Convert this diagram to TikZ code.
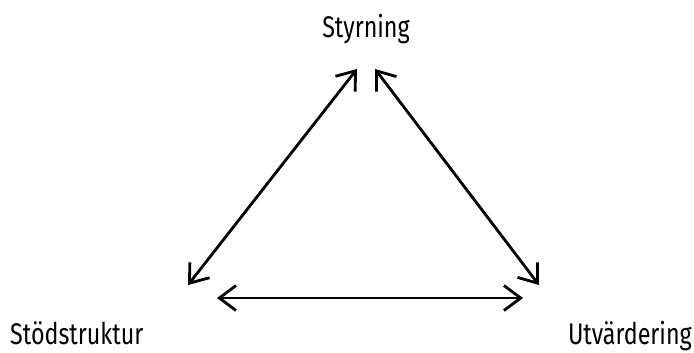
\documentclass[tikz,border=0pt]{standalone}
\usepackage{fontspec}
\setmainfont[FakeStretch=0.78]{Fira Sans}
\usetikzlibrary{arrows.meta}

\begin{document}
\begin{tikzpicture}[x=0.03cm, y=-0.03cm, >={Straight Barb[length=5mm, width=7.5mm]}]
  % Styles
  \tikzset{
    pil/.style={<->, line width=2.4pt},
    etikett/.style={font=\fontsize{25.5}{30}\selectfont, inner sep=0pt}
  }
  \useasboundingbox (0,0) rectangle (694,352);

  % Labels
  \node[etikett, anchor=base] (styr) at (366,37) {Styrning};
  \node[etikett, anchor=base west] (stod) at (10,344) {Stödstruktur};
  \node[etikett, anchor=base east] (utv) at (692,344) {Utvärdering};

  % Arrow ends
  \coordinate (toppV) at (357,69);
  \coordinate (toppH) at (375,69);
  \coordinate (vanster) at (188,285);
  \coordinate (hoger) at (539,285);
  \coordinate (bottenV) at (217,298);
  \coordinate (bottenH) at (523,298);

  % Arrows
  \draw[pil] (toppV) -- (vanster);
  \draw[pil] (toppH) -- (hoger);
  \draw[pil] (bottenV) -- (bottenH);
\end{tikzpicture}
\end{document}
